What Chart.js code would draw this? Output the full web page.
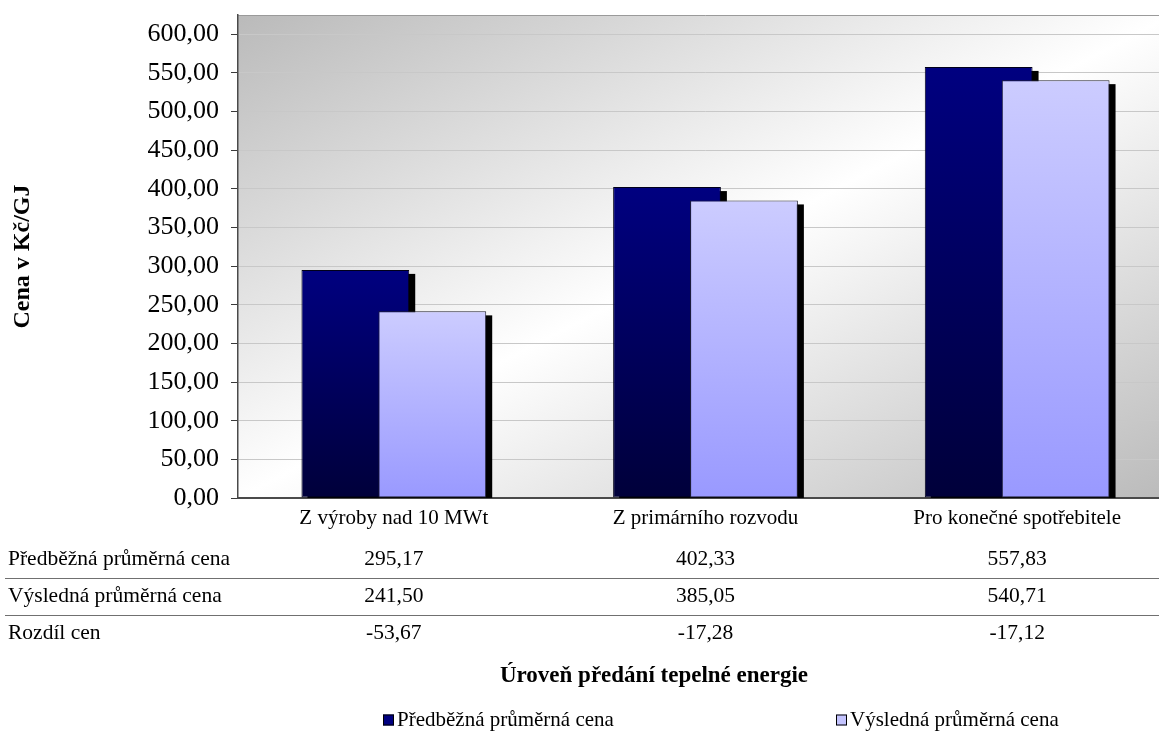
<!DOCTYPE html>
<html lang="cs">
<head>
<meta charset="utf-8">
<title>Cena tepelné energie</title>
<script src="https://cdn.jsdelivr.net/npm/chart.js@4/dist/chart.umd.min.js"></script>
<style>
  html, body { margin: 0; padding: 0; background: #fff; overflow: hidden; }
  #wrap { width: 1159px; height: 731px; overflow: hidden; }
  canvas { display: block; }
</style>
</head>
<body>
<div id="wrap"><canvas id="c" width="1173" height="731"></canvas></div>
<script>
// Úrovně předání tepelné energie
const categories = ['Z výroby nad 10 MWt', 'Z primárního rozvodu', 'Pro konečné spotřebitele'];
// Ceny v Kč/GJ
const predbeznaCena = [295.17, 402.33, 557.83];
const vyslednaCena = [241.50, 385.05, 540.71];
const rozdilCen = [-53.67, -17.28, -17.12];
const seriesLabels = ['Předběžná průměrná cena', 'Výsledná průměrná cena', 'Rozdíl cen'];
// Osa Y: 0 až 600 po 50
const yTickStep = 50;
const yTickMax = 600;

const SERIF = '"Liberation Serif", "Times New Roman", serif';
const fmt = v => v.toFixed(2).replace('.', ',');

// Svislý přechod pro každý sloupec od jeho vrcholu k nule
function barFill(topColor, bottomColor) {
  return (ctx) => {
    const chart = ctx.chart;
    const ys = chart.scales && chart.scales.y;
    if (!ys || ctx.type !== 'data') return topColor;
    const y0 = ys.getPixelForValue(ctx.raw);
    const y1 = ys.getPixelForValue(0);
    if (!isFinite(y0) || !isFinite(y1) || y0 === y1) return topColor;
    const g = chart.ctx.createLinearGradient(0, y0, 0, y1);
    g.addColorStop(0, topColor);
    g.addColorStop(1, bottomColor);
    return g;
  };
}

// Pozadí plochy grafu: diagonální přechod šedá – bílá – šedá
const plotBackground = {
  id: 'plotBackground',
  beforeDraw(chart) {
    const { ctx, chartArea: a } = chart;
    const w = a.right - a.left, h = a.bottom - a.top;
    const cx = a.left + w / 2, cy = a.top + h / 2;
    const k = (w * h) / (w * w + h * h);
    const g = ctx.createLinearGradient(cx - h * k, cy - w * k, cx + h * k, cy + w * k);
    g.addColorStop(0, '#bababa');
    g.addColorStop(0.5, '#ffffff');
    g.addColorStop(1, '#bababa');
    ctx.save();
    ctx.fillStyle = g;
    ctx.fillRect(a.left, a.top, w, h);
    ctx.strokeStyle = '#9a9a9a';
    ctx.lineWidth = 1;
    ctx.beginPath();
    ctx.moveTo(a.left, a.top + 0.5);
    ctx.lineTo(a.right, a.top + 0.5);
    ctx.stroke();
    ctx.restore();
  }
};

// Sloupce se stínem; první řada se kreslí jako první, druhá ji překrývá
const shadowBars = {
  id: 'shadowBars',
  beforeDatasetsDraw(chart) {
    const { ctx, chartArea: a } = chart;
    ctx.save();
    ctx.beginPath();
    ctx.rect(a.left, a.top, a.right - a.left, a.bottom - a.top);
    ctx.clip();
    chart.data.datasets.forEach((ds, i) => {
      const meta = chart.getDatasetMeta(i);
      if (meta.hidden) return;
      ctx.fillStyle = '#000';
      meta.data.forEach(el => {
        const p = el.getProps(['x', 'y', 'base', 'width'], true);
        ctx.fillRect(p.x - p.width / 2 + 6, p.y + 4, p.width, p.base - p.y);
      });
      meta.controller.draw();
    });
    ctx.restore();
    return false;
  }
};

// Tabulka hodnot, název osy X a legenda pod grafem
const tableAndLegend = {
  id: 'tableAndLegend',
  afterDraw(chart) {
    const { ctx, chartArea: a, scales } = chart;
    const xs = scales.x;
    const rows = [predbeznaCena, vyslednaCena, rozdilCen];
    const rowY = [a.bottom + 61, a.bottom + 98, a.bottom + 135];
    const lineY = [a.bottom + 80, a.bottom + 117];
    ctx.save();
    ctx.fillStyle = '#000';
    ctx.font = '21.5px ' + SERIF;
    ctx.textBaseline = 'middle';
    rows.forEach((vals, r) => {
      ctx.textAlign = 'left';
      ctx.fillText(seriesLabels[r], 8, rowY[r]);
      ctx.textAlign = 'center';
      vals.forEach((v, i) => ctx.fillText(fmt(v), xs.getPixelForValue(i), rowY[r]));
    });
    ctx.strokeStyle = '#707070';
    ctx.lineWidth = 1;
    lineY.forEach(y => {
      ctx.beginPath();
      ctx.moveTo(5, y + 0.5);
      ctx.lineTo(chart.width, y + 0.5);
      ctx.stroke();
    });

    // Název osy X
    ctx.font = 'bold 23px ' + SERIF;
    ctx.textAlign = 'center';
    ctx.fillText('Úroveň předání tepelné energie', 654, a.bottom + 178);

    // Legenda
    const legendX = [383, 836];
    const legendY = a.bottom + 222;
    ctx.font = '21px ' + SERIF;
    ctx.textAlign = 'left';
    chart.data.datasets.forEach((ds, i) => {
      const x = legendX[i];
      ctx.fillStyle = ds.legendColor;
      ctx.fillRect(x, legendY - 5.5, 11, 11);
      ctx.strokeStyle = '#000';
      ctx.strokeRect(x + 0.5, legendY - 5, 10, 10);
      ctx.fillStyle = '#000';
      ctx.fillText(ds.label, x + 14, legendY);
    });
    ctx.restore();
  }
};

new Chart(document.getElementById('c'), {
  type: 'bar',
  data: {
    labels: categories,
    datasets: [
      {
        label: seriesLabels[0],
        data: predbeznaCena,
        legendColor: '#000080',
        backgroundColor: barFill('#000080', '#00003a'),
        borderColor: '#00001a',
        borderWidth: 1,
        borderSkipped: false
      },
      {
        label: seriesLabels[1],
        data: vyslednaCena,
        legendColor: '#c4c4ff',
        backgroundColor: barFill('#ccccff', '#9999ff'),
        borderColor: '#222233',
        borderWidth: 1,
        borderSkipped: false
      }
    ]
  },
  options: {
    responsive: false,
    animation: false,
    events: [],
    barPercentage: 1.40,
    categoryPercentage: 0.494,
    layout: { padding: { left: 0, right: 0, top: 15, bottom: 198 } },
    plugins: {
      legend: { display: false },
      tooltip: { enabled: false }
    },
    scales: {
      x: {
        grid: { display: false, drawTicks: false },
        border: { display: true, color: '#4a4a4a', width: 2 },
        ticks: { color: '#000', font: { family: SERIF, size: 21 }, padding: 8, maxRotation: 0, autoSkip: false },
        afterFit(scale) { scale.height = 35; }
      },
      y: {
        min: 0,
        max: 625,
        grid: { color: '#c8c8c8', lineWidth: 1, drawTicks: true, tickLength: 7, tickColor: '#3a3a3a' },
        border: { display: true, color: '#4a4a4a', width: 1.5 },
        ticks: {
          stepSize: yTickStep,
          includeBounds: false,
          color: '#000',
          padding: 12,
          font: { family: SERIF, size: 26 },
          callback: (v) => (v <= yTickMax ? fmt(v) : '')
        },
        title: {
          display: true,
          text: 'Cena v Kč/GJ',
          color: '#000',
          font: { family: SERIF, size: 24, weight: 'bold' },
          padding: { top: 8, bottom: 0 }
        },
        afterFit(scale) {
          scale.width = 238;
          scale.paddingTop = 0;
          scale.paddingBottom = 0;
        }
      }
    }
  },
  plugins: [plotBackground, shadowBars, tableAndLegend]
});
</script>
</body>
</html>
